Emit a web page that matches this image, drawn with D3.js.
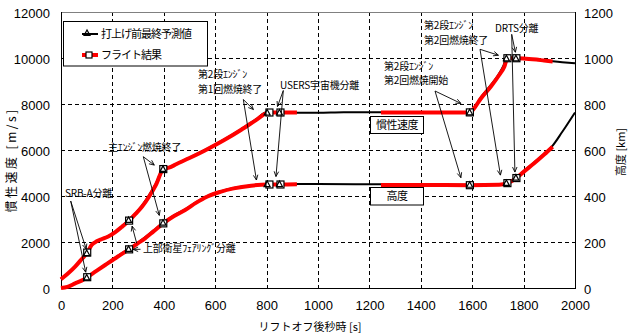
<!DOCTYPE html>
<html><head><meta charset="utf-8">
<script src="https://cdn.jsdelivr.net/npm/d3@7"></script>
<style>
body{margin:0;background:#fff}
svg{display:block}
text{font-family:'Noto Sans CJK JP','Noto Sans',sans-serif;fill:#000}
.num{font-family:'Liberation Sans Narrow','Arial Narrow','Liberation Sans',sans-serif;font-size:13px}
</style></head><body>
<svg id="c" width="636" height="334"></svg>
<script>
// ---------------- data ----------------
const xTicks=[0,200,400,600,800,1000,1200,1400,1600,1800,2000];
const velTicks=[0,2000,4000,6000,8000,10000,12000];
const altTicks=[0,200,400,600,800,1000,1200];
const seriesNames=["打上げ前最終予測値","フライト結果"];
const xTitle="リフトオフ後秒時 [s]";
const velTitle="慣性速度 [m/s]";
const altTitle="高度 [km]";
const curveLabels=["慣性速度","高度"];

// prediction (black) – inertial velocity [m/s]
const predVelTime=[0,28,55,80,100,119,139,160,184,210,236,263,290,315,343,370,397,420,450,500,560,630,700,760,798,850,920,1000,1100,1245,1400,1500,1590,1610,1633,1672,1705,1722,1733,1770,1800,1850,1913,1950,2000];
const predVel=[380,640,930,1250,1520,1860,2030,2140,2260,2440,2670,2960,3250,3580,4040,4560,5180,5250,5410,5670,6000,6430,6900,7340,7630,7630,7615,7615,7640,7640,7640,7640,7640,7880,8280,8820,9330,9680,9990,9990,9970,9920,9860,9820,9770];
// prediction (black) – altitude [km]
const predAltTime=[0,25,55,80,100,135,172,220,263,300,327,360,397,440,483,525,568,620,672,740,802,850,920,1000,1245,1400,1590,1705,1733,1770,1800,1841,1880,1913,1950,2000];
const predAlt=[0,5,20,32,46,73,102,139,170,198,220,250,284,316,342,372,399,420,435,446,452,452,452,452,451,450,449,451,457,480,508,546,584,619,678,763];

// flight result (red) – inertial velocity [m/s] (null = no data)
const flightVelTime=[0,28,55,80,102,119,139,160,184,210,236,265,290,315,343,370,398,420,450,500,560,630,700,760,800,811,830,854,880,918,1000,1245,1400,1591,1610,1633,1672,1705,1725,1737,1772,1800,1850,1880,1913];
const flightVel=[380,640,930,1250,1540,1870,2030,2130,2240,2420,2650,2930,3220,3530,3980,4500,5170,5230,5390,5650,5980,6400,6870,7310,7600,7630,7630,7630,7630,7630,null,7630,7630,7635,7850,8230,8750,9260,9620,9990,9990,9980,9930,9890,9850];
// flight result (red) – altitude [km]
const flightAltTime=[0,25,55,80,102,135,172,220,265,300,327,360,398,440,483,525,568,620,672,740,802,854,918,1000,1245,1400,1591,1705,1737,1772,1800,1841,1880,1913];
const flightAlt=[0,5,20,32,47,72,100,136,168,195,216,246,281,313,339,370,397,418,433,445,450,450,451,null,448,448,447,449,456,478,505,542,580,614];

// events
const eventLabels=["SRB-A分離","上部衛星ﾌｪｱﾘﾝｸﾞ分離","主ｴﾝｼﾞﾝ燃焼終了","第2段ｴﾝｼﾞﾝ\n第1回燃焼終了","USERS宇宙機分離","第2段ｴﾝｼﾞﾝ\n第2回燃焼開始","第2段ｴﾝｼﾞﾝ\n第2回燃焼終了","DRTS分離"];
const flightEventTime=[102,265,398,811,854,1591,1737,1772];
const flightEventVel=[1540,2930,5170,7630,7630,7635,9990,9990];
const flightEventAlt=[47,168,281,450,450,447,456,478];
const predEventTime=[100,263,397,802,850,1590,1733,1770];
const predEventVel=[1520,2960,5180,7630,7630,7640,9990,9990];
const predEventAlt=[46,170,284,452,452,449,457,480];

// ---------------- layout ----------------
const svg=d3.select("#c");
const x=d3.scaleLinear().domain([0,2000]).range([61,575]);
const yV=d3.scaleLinear().domain([0,12000]).range([288,12]);
const yA=d3.scaleLinear().domain([0,1200]).range([288,12]);
const px=v=>Math.round(v)+0.5;

// grid
const g=svg.append("g");
g.selectAll(".vg").data(xTicks.slice(1,-1)).enter().append("line")
 .attr("x1",d=>px(x(d))).attr("x2",d=>px(x(d))).attr("y1",12).attr("y2",288)
 .attr("stroke","#000").attr("stroke-width",1).attr("stroke-dasharray","4,3");
g.selectAll(".hg").data(velTicks.slice(1,-1)).enter().append("line")
 .attr("x1",61).attr("x2",575).attr("y1",d=>px(yV(d))).attr("y2",d=>px(yV(d)))
 .attr("stroke","#000").attr("stroke-width",1).attr("stroke-dasharray","4,3");

// frame
svg.append("line").attr("x1",61).attr("x2",575).attr("y1",12.5).attr("y2",12.5).attr("stroke","#808080");
svg.append("line").attr("x1",61.5).attr("x2",61.5).attr("y1",12).attr("y2",289).attr("stroke","#000");
svg.append("line").attr("x1",575.5).attr("x2",575.5).attr("y1",12).attr("y2",289).attr("stroke","#000");
svg.append("line").attr("x1",61).attr("x2",576).attr("y1",288.5).attr("y2",288.5).attr("stroke","#000");

// axes
const axL=svg.append("g").attr("transform","translate(61,0)")
 .call(d3.axisLeft(yV).tickValues(velTicks).tickSize(0).tickPadding(11).tickFormat(d3.format("d")));
const axR=svg.append("g").attr("transform","translate(575,0)")
 .call(d3.axisRight(yA).tickValues(altTicks).tickSize(0).tickPadding(9).tickFormat(d3.format("d")));
const axB=svg.append("g").attr("transform","translate(0,288)")
 .call(d3.axisBottom(x).tickValues(xTicks).tickSize(0).tickPadding(13).tickFormat(d3.format("d")));
[axL,axR,axB].forEach(a=>{a.select(".domain").remove();a.selectAll("text").attr("class","num").attr("font-size",null).attr("font-family",null);});
axL.selectAll("text").attr("dy","0.45em");
axR.selectAll("text").attr("dy","0.45em");

// titles
svg.append("text").attr("transform","translate(16,160) rotate(-90)").attr("text-anchor","middle")
 .attr("font-size",12).attr("letter-spacing","2.5px").text(velTitle);
svg.append("text").attr("transform","translate(625,152) rotate(-90)").attr("text-anchor","middle")
 .attr("font-size",11).text(altTitle);
svg.append("text").attr("x",310).attr("y",331).attr("text-anchor","middle")
 .attr("font-size",11).text(xTitle);

// lines
const mk=(t,v,ys)=>t.map((d,i)=>({t:d,v:v[i],ys}));
const line=d3.line().defined(d=>d.v!==null).x(d=>x(d.t)).y(d=>d.ys(d.v)).curve(d3.curveMonotoneX);
const plot=svg.append("g");
plot.append("path").datum(mk(predVelTime,predVel,yV)).attr("d",line).attr("fill","none").attr("stroke","#000").attr("stroke-width",2);
plot.append("path").datum(mk(predAltTime,predAlt,yA)).attr("d",line).attr("fill","none").attr("stroke","#000").attr("stroke-width",2);
plot.append("path").datum(mk(flightVelTime,flightVel,yV)).attr("d",line).attr("fill","none").attr("stroke","#ff0000").attr("stroke-width",4);
plot.append("path").datum(mk(flightAltTime,flightAlt,yA)).attr("d",line).attr("fill","none").attr("stroke","#ff0000").attr("stroke-width",4);

// markers
const sq=(sel,cx,cy,s)=>sel.append("rect").attr("x",cx-s/2).attr("y",cy-s/2).attr("width",s).attr("height",s)
 .attr("fill","#fff").attr("stroke","#000").attr("stroke-width",1.2);
const tri=(sel,cx,cy,s)=>sel.append("path").attr("d",`M${cx-s/2},${cy+s/2-0.5}L${cx},${cy-s/2}L${cx+s/2},${cy+s/2-0.5}Z`)
 .attr("fill","none").attr("stroke","#000").attr("stroke-width",1.2);
const mg=svg.append("g");
flightEventTime.forEach((t,i)=>{sq(mg,x(t),yV(flightEventVel[i]),7);sq(mg,x(t),yA(flightEventAlt[i]),7);});
predEventTime.forEach((t,i)=>{tri(mg,x(t),yV(predEventVel[i]),6);tri(mg,x(t),yA(predEventAlt[i]),6);});

// curve label boxes
const lb=svg.append("g");
[[curveLabels[0],370.5,116.5,53,17],[curveLabels[1],370.5,187.5,53,17.5]].forEach(([t,bx,by,bw,bh])=>{
 lb.append("rect").attr("x",bx).attr("y",by).attr("width",bw).attr("height",bh).attr("fill","#fff").attr("stroke","#000");
 lb.append("text").attr("x",bx+bw/2).attr("y",by+bh/2+4).attr("text-anchor","middle").attr("font-size",11).attr("letter-spacing","-0.5px").text(t);
});

// annotations
const ann=svg.append("g");
function arrow(x1,y1,x2,y2){
 ann.append("line").attr("x1",x1).attr("y1",y1).attr("x2",x2).attr("y2",y2).attr("stroke","#000").attr("stroke-width",0.9);
 const a=Math.atan2(y2-y1,x2-x1),L=5.5,h=0.42;
 ann.append("path").attr("d",`M${x2-L*Math.cos(a-h)},${y2-L*Math.sin(a-h)}L${x2},${y2}L${x2-L*Math.cos(a+h)},${y2-L*Math.sin(a+h)}`)
  .attr("fill","none").attr("stroke","#000").attr("stroke-width",0.9);
}
const annLayout=[
 {tx:65,ty:197,sv:[70.7,201],ov:[-1,-3.5],sa:[70.7,201],oa:[-1.5,-5]},
 {tx:143,ty:252,sv:[136.7,243.3],ov:[3,5.5],sa:[140.5,249.3],oa:[4,0]},
 {tx:108,ty:151,sv:[143.3,156.7],ov:[-9,-4],sa:[143.3,156.7],oa:[-4,-8]},
 {tx:198,ty:78,sv:[243.3,99.5],ov:[-16,-3],sa:[243.3,99.5],oa:[-13,-4.5]},
 {tx:280,ty:89,sv:[283.3,90.5],ov:[-3,-6],sa:[283.3,90.5],oa:[-4.5,-8]},
 {tx:384,ty:69.5,sv:[435,91],ov:[-9,-9],sa:[435,91],oa:[-9,-7.5]},
 {tx:424,ty:29,sv:[480,49.3],ov:[-9,-3],sa:[480,49.3],oa:[-7,-8]},
 {tx:495,ty:32,sv:[511.7,34.3],ov:[-1,-6],sa:[511.7,34.3],oa:[-1.5,-6]}
];
eventLabels.forEach((lab,i)=>{
 const L=annLayout[i];
 lab.split("\n").forEach((s,k)=>ann.append("text").attr("x",L.tx).attr("y",L.ty+k*14.5)
   .attr("font-size",10).attr("letter-spacing","-0.2px").text(s));
 const vx=x(flightEventTime[i]),vy=yV(flightEventVel[i]),ay=yA(flightEventAlt[i]);
 arrow(L.sv[0],L.sv[1],vx+L.ov[0],vy+L.ov[1]);
 arrow(L.sa[0],L.sa[1],vx+L.oa[0],ay+L.oa[1]);
});

// legend
const lg=svg.append("g");
lg.append("rect").attr("x",63.5).attr("y",21.5).attr("width",144).attr("height",44.5).attr("fill","#fff").attr("stroke","#000");
lg.append("line").attr("x1",82).attr("x2",98).attr("y1",34).attr("y2",34).attr("stroke","#000").attr("stroke-width",2);
tri(lg,87,33,6);
lg.append("text").attr("x",101).attr("y",38).attr("font-size",11).attr("letter-spacing","-1px").text(seriesNames[0]);
lg.append("line").attr("x1",82).attr("x2",98).attr("y1",55).attr("y2",55).attr("stroke","#ff0000").attr("stroke-width",4);
lg.append("rect").attr("x",86).attr("y",52).attr("width",6).attr("height",6).attr("fill","#fff").attr("stroke","#000").attr("stroke-width",1.2);
lg.append("text").attr("x",101).attr("y",59).attr("font-size",11).attr("letter-spacing","-1px").text(seriesNames[1]);
</script></body></html>
